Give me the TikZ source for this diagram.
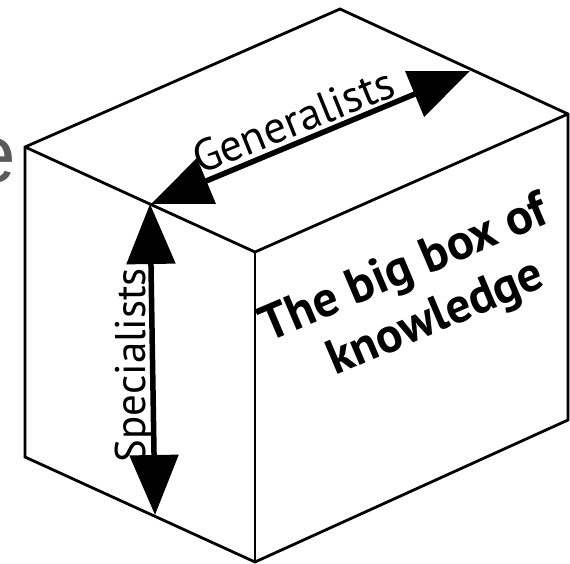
\documentclass[tikz,border=0pt]{standalone}
\usepackage{fontspec}
\usepackage{graphicx}
\setmainfont{PT Sans}
\newfontfamily\lettersans{Liberation Sans}
\usetikzlibrary{arrows.meta}
\definecolor{lettergray}{RGB}{90,90,90}
\begin{document}
\begin{tikzpicture}[x=1pt,y=-1pt,
  boxedge/.style={line width=2.8pt, line join=miter},
  arrowspan/.style={line width=5.5pt,
    {Triangle[length=60pt,width=48pt]}-{Triangle[length=60pt,width=48pt]}},
  armtext/.style={inner sep=0pt, outer sep=0pt, anchor=base,
    font=\fontsize{40}{48}\selectfont},
  boxtext/.style={inner sep=0pt, outer sep=0pt, anchor=base, rotate=23,
    font=\bfseries\fontsize{46}{55}\selectfont}]
\useasboundingbox (0,0) rectangle (570,563);

% large grey letter running off the left margin
\node[font=\lettersans\fontsize{82}{90}\selectfont, text=lettergray,
      anchor=base west, inner sep=0pt, outer sep=0pt] (cutletter) at (-29,182) {e};

% corners of the box
\coordinate (LT) at (25,147);
\coordinate (FT) at (255,252);
\coordinate (RT) at (568,114);
\coordinate (BT) at (340,9);
\coordinate (LB) at (25,457);
\coordinate (FB) at (255,562);
\coordinate (RB) at (568,420);

% box outline and inner edges
\draw[boxedge] (LT) -- (BT) -- (RT) -- (RB) -- (FB) -- (LB) -- cycle;
\draw[boxedge] (LT) -- (FT) -- (RT);
\draw[boxedge] (FT) -- (FB);

% arrow end points
\coordinate (G1) at (151,204);
\coordinate (G2) at (470,71);
\coordinate (S1) at (150,204);
\coordinate (S2) at (155,515);

\draw[arrowspan] (G1) -- (G2);
\draw[arrowspan] (S1) -- (S2);

% labels
\node[armtext, rotate=22] (gen) at (299,135) {\resizebox{213pt}{!}{Generalists}};
\node[armtext, rotate=90] (spec) at (145,365) {\resizebox{194pt}{!}{Specialists}};
\node[boxtext] (line1) at (410,282) {\resizebox{308pt}{!}{The big box of}};
\node[boxtext] (line2) at (441,331) {\resizebox{230pt}{!}{knowledge}};
\end{tikzpicture}
\end{document}
